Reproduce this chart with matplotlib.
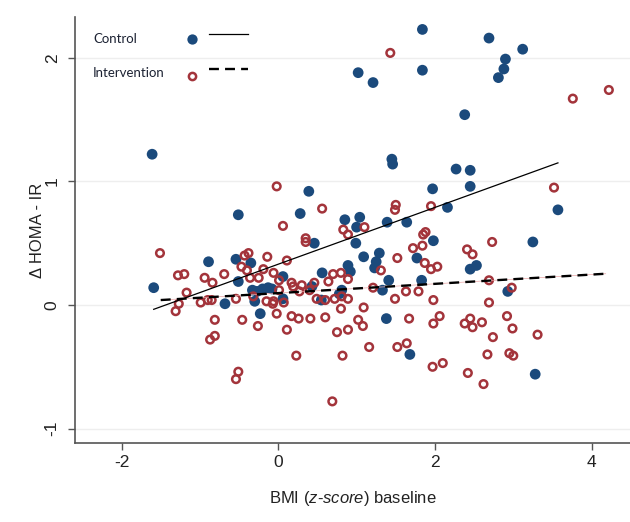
import numpy as np
import matplotlib
matplotlib.use("Agg")
import matplotlib.pyplot as plt
from matplotlib.lines import Line2D

plt.rcParams["font.family"] = ["Liberation Sans", "DejaVu Sans"]
plt.rcParams["mathtext.fontset"] = "custom"
plt.rcParams["mathtext.it"] = "Liberation Sans:italic"
plt.rcParams["mathtext.rm"] = "Liberation Sans"
plt.rcParams["axes.unicode_minus"] = False

# ── Control group (BMI z-score baseline, change in HOMA-IR) ─────────────────
ctrl_x = [-1.61, -0.51, 1.84, 1.84, 1.02, 1.21, 1.45, 1.46, 0.39, 1.97,
          0.28, 2.16, 0.85, 1.04, 1.39, 1.64, 2.69, 3.12, 2.90, 2.88,
          2.81, 2.38, 2.27, 2.45, 2.45, 3.57, 1.00, 1.98, 0.46, 0.99,
          1.09, 1.29, 1.25, 1.23, 1.77, 0.89, 0.92, 0.56, 0.43, 0.06,
          -0.33, -0.27, -0.20, -0.13, -0.08, 0.81, 0.78, 1.33, 1.41, 1.83,
          0.55, 0.06, -0.89, -0.54, -0.35, -0.51, -1.59, -0.68, -0.30, -0.23,
          1.38, 1.68, 3.25, 2.45, 2.53, 2.93, 3.28]
ctrl_y = [1.22, 0.73, 2.23, 1.90, 1.88, 1.80, 1.18, 1.14, 0.92, 0.94,
          0.74, 0.79, 0.69, 0.71, 0.67, 0.67, 2.16, 2.07, 1.99, 1.91,
          1.84, 1.54, 1.10, 1.09, 0.96, 0.77, 0.63, 0.52, 0.50, 0.50,
          0.39, 0.42, 0.35, 0.30, 0.38, 0.32, 0.27, 0.26, 0.15, 0.23,
          0.12, 0.11, 0.13, 0.14, 0.13, 0.12, 0.09, 0.12, 0.20, 0.20,
          0.04, 0.05, 0.35, 0.37, 0.34, 0.19, 0.14, 0.01, 0.03, -0.07,
          -0.11, -0.40, 0.51, 0.29, 0.32, 0.11, -0.56]

# ── Intervention group ───────────────────────────────────────────────────────
int_x = [-0.02, 0.56, 1.50, 1.49, 1.95, 0.06, 1.43, 3.76, 4.22, 3.52,
         -1.51, -0.43, -0.38, -0.47, -0.40, -1.28, -1.20, -0.94, -0.69, -0.84,
         -0.36, -0.25, -1.17, -1.27, -1.31, -0.99, -0.90, -0.85, -0.54, -0.32,
         -0.26, -0.81, -0.46, -0.81, -0.87, -0.51, -0.54,
         0.83, 1.10, 0.89, 1.85, 1.88, 1.84, 1.72, 0.35, 0.35,
         -0.14, 0.11, 1.31, 1.52, 1.87, 1.95, 2.03, 0.80, 0.89, 0.70,
         0.64, 0.46, 0.40, -0.19, -0.06, 0.01, 0.17, 0.01, 0.27, 0.19,
         0.81, 0.89, 1.21, 1.49, 1.63, 1.79, 1.98, 0.49, 0.60, 0.72,
         0.80, -0.15, -0.06, 0.07, -0.07, -0.02, 0.17, 0.26, 0.41, 0.60,
         0.11, 0.75, 0.89, 1.02, 1.08, 1.09, 1.67, 1.98, 2.06, 0.23,
         0.82, 1.16, 1.52, 1.64, 1.97, 2.10, 0.69,
         2.73, 2.41, 2.48, 2.69, 2.98, 2.69, 2.45, 2.38, 2.48, 2.60,
         2.92, 2.99, 2.74, 3.31, 2.67, 2.95, 3.00, 2.42, 2.62, 0.30]
int_y = [0.96, 0.78, 0.81, 0.77, 0.80, 0.64, 2.04, 1.67, 1.74, 0.95,
         0.42, 0.40, 0.42, 0.31, 0.28, 0.24, 0.25, 0.22, 0.25, 0.18,
         0.22, 0.22, 0.10, 0.01, -0.05, 0.02, 0.04, 0.04, 0.05, 0.07,
         -0.17, -0.12, -0.12, -0.25, -0.28, -0.54, -0.60,
         0.61, 0.63, 0.57, 0.57, 0.59, 0.48, 0.46, 0.54, 0.51,
         0.39, 0.36, 0.28, 0.38, 0.34, 0.29, 0.31, 0.26, 0.21, 0.25,
         0.19, 0.18, 0.12, 0.29, 0.26, 0.20, 0.18, 0.12, 0.11, 0.15,
         0.07, 0.05, 0.14, 0.05, 0.11, 0.11, 0.04, 0.05, 0.04, 0.05,
         -0.03, 0.03, 0.03, 0.02, 0.01, -0.07, -0.09, -0.11, -0.11, -0.10,
         -0.20, -0.22, -0.20, -0.12, -0.17, -0.02, -0.11, -0.15, -0.09, -0.41,
         -0.41, -0.34, -0.34, -0.31, -0.50, -0.47, -0.78,
         0.51, 0.45, 0.41, 0.20, 0.14, 0.02, -0.11, -0.15, -0.18, -0.14,
         -0.09, -0.19, -0.26, -0.24, -0.40, -0.39, -0.41, -0.55, -0.64, 0.16]

# ── Fitted lines ─────────────────────────────────────────────────────────────
ctrl_fit_x = [-1.59, 3.57]
ctrl_fit_y = [-0.035, 1.15]
int_fit_x = [-1.50, 4.18]
int_fit_y = [0.04, 0.253]

xticks = [-2, 0, 2, 4]
yticks = [-1, 0, 1, 2]

BLUE = "#1b4a7c"
RED = "#a3343b"

fig = plt.figure(figsize=(6.3, 5.22), dpi=100)
ax = fig.add_axes([0.119, 0.1513, 0.881, 0.816])

ax.scatter(ctrl_x, ctrl_y, s=60, color=BLUE, edgecolors="none", zorder=3)
ax.scatter(int_x, int_y, s=30, facecolors="none", edgecolors=RED,
           linewidths=1.8, zorder=4)

ax.plot(ctrl_fit_x, ctrl_fit_y, color="black", lw=0.9, zorder=5)
ax.plot(int_fit_x, int_fit_y, color="#e8a5a5", lw=0.5, zorder=5)
ax.plot(int_fit_x, int_fit_y, color="black", lw=1.7,
        linestyle=(0, (4.2, 2.6)), zorder=6)

ax.set_xlim(-2.595, 4.49)
ax.set_ylim(-1.117, 2.33)
ax.set_xticks(xticks)
ax.set_yticks(yticks)
ax.yaxis.grid(True, color="#eeeeee", lw=1.0)
ax.set_axisbelow(True)

for s in ["top", "right"]:
    ax.spines[s].set_visible(False)
for s in ["left", "bottom"]:
    ax.spines[s].set_color("#555555")
    ax.spines[s].set_linewidth(1.2)

ax.tick_params(axis="both", colors="#555555", length=5, width=1.0,
               labelsize=12.5, labelcolor="#222222")
ax.tick_params(axis="y", labelrotation=90, pad=6)
for lab in ax.get_yticklabels():
    lab.set_va("center")

ax.set_xlabel("BMI ($\\mathit{z}$-$\\mathit{score}$) baseline", fontsize=12,
              color="#222222", labelpad=14)
ax.set_ylabel("\u0394 HOMA - IR", fontsize=12, color="#222222", labelpad=0)

# legend drawn by hand: label, marker, then line sample
leg_font = dict(fontsize=9.5, family=["Lato", "DejaVu Sans"], color="#1c2233",
                va="center", ha="left", transform=ax.transAxes)
ax.text(0.0324, 0.948, "Control", **leg_font)
ax.text(0.0324, 0.869, "Intervention", **leg_font)
ax.add_line(Line2D([0.2108], [0.948], transform=ax.transAxes, marker="o",
                   markersize=7.4, color=BLUE, markeredgewidth=0, ls="none"))
ax.add_line(Line2D([0.2108], [0.861], transform=ax.transAxes, marker="o",
                   markersize=5.2, markerfacecolor="none", markeredgecolor=RED,
                   markeredgewidth=1.8, ls="none"))
ax.add_line(Line2D([0.2414, 0.3117], [0.9594, 0.9594], transform=ax.transAxes,
                   color="black", lw=0.9))
ax.add_line(Line2D([0.2414, 0.3117], [0.8786, 0.8786], transform=ax.transAxes,
                   color="black", lw=1.7, linestyle=(0, (4.2, 2.6))))

fig.savefig("out.png", dpi=100)
